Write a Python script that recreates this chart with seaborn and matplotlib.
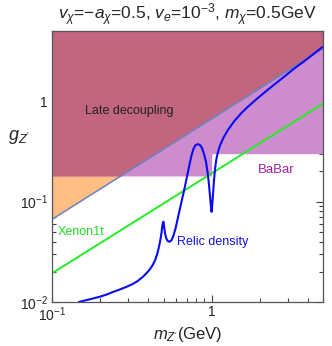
import numpy as np
import pandas as pd
import seaborn as sns
import matplotlib.pyplot as plt
from matplotlib.ticker import LogLocator, NullFormatter

# late decoupling boundary (straight line in log-log)
ld_m = [0.1, 5.0]
ld_g = [0.0665, 3.35]

# BaBar limit (step at 1 GeV)
babar_lo = 0.18
babar_hi = 0.30
babar_step = 1.0

# Xenon1t
xe_m = [0.1, 5.0]
xe_g = [0.0193, 0.945]

# relic density curve
relic_m = [0.1475, 0.1608, 0.1728, 0.1857, 0.1995, 0.2207, 0.2405, 0.2661, 0.2943, 0.3209,
           0.3447, 0.3704, 0.3924, 0.4097, 0.4279, 0.4434, 0.4563, 0.4663, 0.4765, 0.4856,
           0.4912, 0.4962, 0.5000, 0.5048, 0.5107, 0.5195, 0.5309, 0.5464, 0.5623, 0.5788,
           0.5957, 0.6131, 0.6310, 0.6541, 0.6780, 0.7028, 0.7286, 0.7499, 0.7718, 0.7943,
           0.8211, 0.8475, 0.8723, 0.8977, 0.9240, 0.9441, 0.9619, 0.9772, 0.9900, 1.0000,
           1.0101, 1.0218, 1.0366, 1.0532, 1.0699, 1.0900, 1.1300, 1.1900, 1.2644, 1.3922,
           1.5333, 1.6859, 1.9471, 2.2484, 2.5964, 2.9300, 3.3012, 3.8131, 4.3401, 4.9402]
relic_g = [0.01000, 0.01035, 0.01064, 0.01096, 0.01129, 0.01188, 0.01257, 0.01331, 0.01420, 0.01511,
           0.01618, 0.01774, 0.01944, 0.02106, 0.02334, 0.02618, 0.03004, 0.03446, 0.04046, 0.04860,
           0.05703, 0.06200, 0.06300, 0.05575, 0.04860, 0.04334, 0.04050, 0.03981, 0.04139, 0.04642,
           0.05450, 0.06697, 0.08230, 0.10590, 0.13620, 0.17940, 0.23610, 0.29020, 0.33690, 0.36500,
           0.37340, 0.36500, 0.34070, 0.29690, 0.24720, 0.19660, 0.15280, 0.11610, 0.09230, 0.07910,
           0.09230, 0.11880, 0.16360, 0.21540, 0.25880, 0.30000, 0.36300, 0.43500, 0.51450, 0.63600,
           0.75700, 0.87700, 1.07300, 1.29700, 1.55600, 1.81430, 2.11560, 2.50030, 2.93680, 3.44600]

sns.set_theme(style="ticks")
plt.rcParams['font.family'] = ['Liberation Sans', 'DejaVu Sans']
plt.rcParams['mathtext.fontset'] = 'custom'
plt.rcParams['mathtext.rm'] = 'Liberation Sans'
plt.rcParams['mathtext.it'] = 'Liberation Sans:italic'

fig = plt.figure(figsize=(3.32, 3.46), dpi=100)
ax = fig.add_axes([0.1566, 0.1272, 0.8164, 0.7832])

grid = np.logspace(-1, np.log10(5.0), 800)
diag = np.exp(np.interp(np.log(grid), np.log(ld_m), np.log(ld_g)))
bb = np.where(grid < babar_step, babar_lo, babar_hi)
top = 5.0

ax.fill_between(grid, diag, top, color='#ffbe84', lw=0)
ax.fill_between(grid, bb, top, color='#cd8ccd', lw=0)
ax.fill_between(grid, np.maximum(diag, bb), top, color='#c2657f', lw=0)

sns.lineplot(x=ld_m, y=ld_g, ax=ax, color='#6a84c4', lw=1.1)
sns.lineplot(x=xe_m, y=xe_g, ax=ax, color='#22ee22', lw=1.4)
relic = pd.DataFrame({'m': relic_m, 'g': relic_g})
sns.lineplot(data=relic, x='m', y='g', ax=ax, color='#0a0af5', lw=1.5, sort=False)

ax.set_xscale('log')
ax.set_yscale('log')
ax.set_xlim(0.1, 5.0)
ax.set_ylim(0.01, 5.0)

ax.set_xticks([0.1, 1], ['$10^{-1}$', '1'])
ax.set_yticks([0.01, 0.1, 1], ['$10^{-2}$', '$10^{-1}$', '1'])
ax.xaxis.set_minor_locator(LogLocator(base=10, subs=np.arange(2, 10)))
ax.yaxis.set_minor_locator(LogLocator(base=10, subs=np.arange(2, 10)))
ax.xaxis.set_minor_formatter(NullFormatter())
ax.yaxis.set_minor_formatter(NullFormatter())
ax.tick_params(which='both', direction='in', top=True, right=True, labelsize=10,
               color='#444444', width=0.8)
ax.tick_params(axis='x', pad=2.5)
ax.tick_params(axis='y', pad=3)
ax.tick_params(which='major', length=5)
ax.tick_params(which='minor', length=3)
for s in ax.spines.values():
    s.set_color('#555555')
    s.set_linewidth(0.9)

ax.set_xlabel("$m_{Z'}$(GeV)", fontsize=12, labelpad=1)
ax.set_ylabel("$g_{Z'}$", fontsize=13, rotation=0, va='center', ha='center')
ax.yaxis.set_label_coords(-0.122, 0.609)
ax.set_title("$v_\\chi$=$-a_\\chi$=0.5, $v_e$=10$^{-3}$, $m_\\chi$=0.5GeV", fontsize=12.5, pad=8)

ax.text(0.161, 0.80, 'Late decoupling', fontsize=9, color='#222222', va='center')
ax.text(1.94, 0.205, 'BaBar', fontsize=9.5, color='#a020a0', va='center')
ax.text(0.109, 0.0497, 'Xenon1t', fontsize=9, color='#22dd22', va='center')
ax.text(0.604, 0.0398, 'Relic density', fontsize=9, color='#1010f0', va='center')

plt.savefig('out.png', dpi=100)
